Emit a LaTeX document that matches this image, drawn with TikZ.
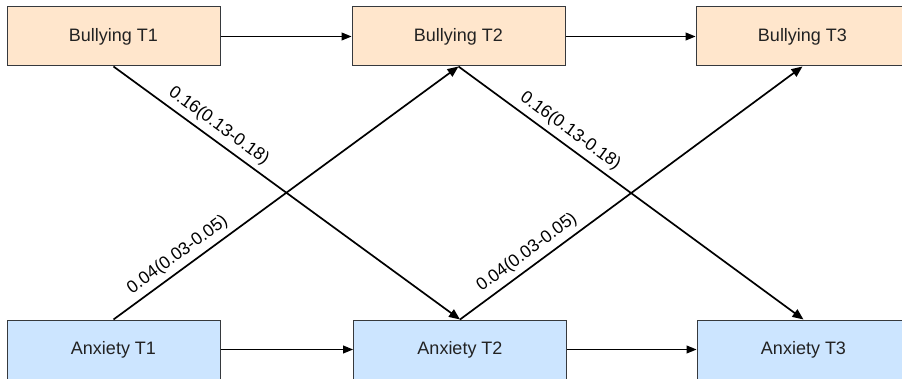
\documentclass[tikz,border=0pt]{standalone}
\usepackage{fontspec}
\setmainfont{Liberation Sans}
\usetikzlibrary{arrows.meta}
\definecolor{bfill}{HTML}{FFE6CC}
\definecolor{afill}{HTML}{CCE5FF}
\definecolor{edge}{HTML}{36393D}
\definecolor{txt}{HTML}{222222}
\begin{document}
\begin{tikzpicture}[x=1pt,y=-1pt,
  box/.style={draw=edge, line width=1pt, minimum width=213pt, minimum height=59pt, inner sep=0pt,
    text=txt, font=\fontsize{18}{22}\selectfont},
  bbox/.style={box, fill=bfill},
  abox/.style={box, fill=afill},
  harrow/.style={line width=1pt, -{Triangle[length=10pt,width=8pt]}},
  darrow/.style={line width=1.7pt, -{Triangle[length=11pt,width=9pt]}},
  lbl/.style={sloped, above, inner sep=5pt, font=\fontsize{17.5}{20}\selectfont}]
\useasboundingbox (0,0) rectangle (902,379);
\node[bbox] (b1) at (113.5,36.5) {Bullying T1};
\node[bbox] (b2) at (458.5,36.5) {Bullying T2};
\node[bbox] (b3) at (802.5,36.5) {Bullying T3};
\node[abox] (a1) at (113.5,349.5) {Anxiety T1};
\node[abox] (a2) at (460,349.5) {Anxiety T2};
\node[abox] (a3) at (803.5,349.5) {Anxiety T3};
\draw[harrow] (b1.east) -- (b2.west);
\draw[harrow] (b2.east) -- (b3.west);
\draw[harrow] (a1.east) -- (a2.west);
\draw[harrow] (a2.east) -- (a3.west);
\draw[darrow] (b1.south) -- node[lbl, pos=0.28] {0.16(0.13-0.18)} (a2.north);
\draw[darrow] (a1.north) -- node[lbl, pos=0.21] {0.04(0.03-0.05)} (b2.south);
\draw[darrow] (b2.south) -- node[lbl, pos=0.30] {0.16(0.13-0.18)} (a3.north);
\draw[darrow] (a2.north) -- node[lbl, pos=0.22] {0.04(0.03-0.05)} (b3.south);
\end{tikzpicture}
\end{document}
